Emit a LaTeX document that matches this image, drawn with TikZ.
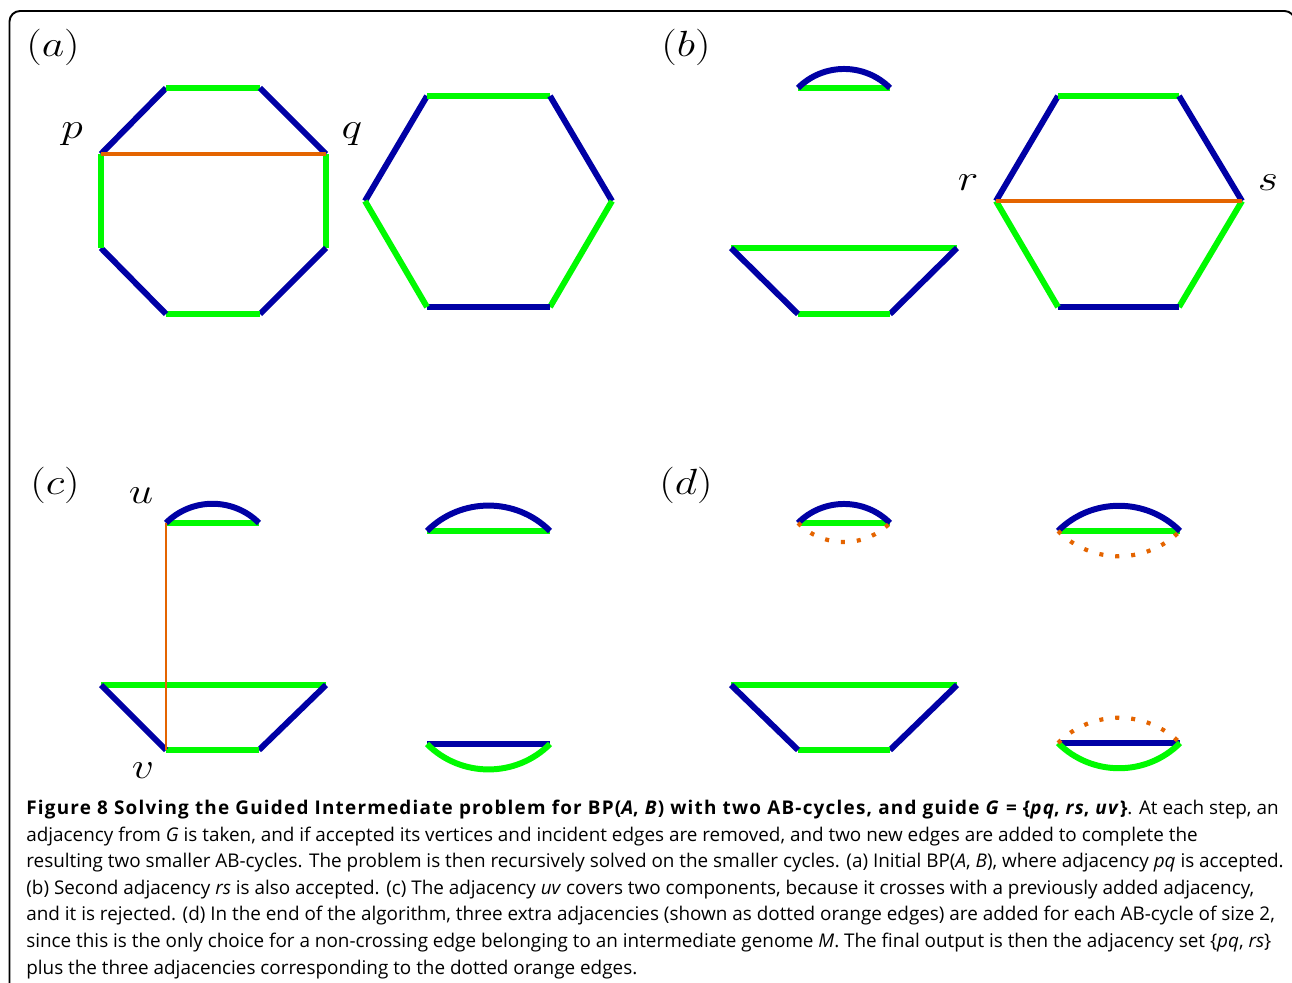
\documentclass[tikz,border=0pt]{standalone}
\usepackage{fontspec}
\newfontfamily\capfont{Open Sans}
\usepackage{xcolor}
\usepackage{tikz}
\usetikzlibrary{arrows.meta, calc}
\definecolor{myorange}{RGB}{228,100,0}
\definecolor{myblue}{RGB}{0,0,165}
\definecolor{mygreen}{RGB}{0,250,0}
\tikzstyle{bedge} = [myblue, line width=3.4pt]
\tikzstyle{gedge} = [mygreen, line width=3.4pt]
\tikzstyle{adj} = [myorange, line width=1.9pt]
\tikzstyle{extra} = [myorange, line width=2.4pt, dash pattern=on 2.3pt off 6.8pt]
\newcommand{\plab}[1]{\scalebox{1.2}[1]{$#1$}}
\newcommand{\capbf}[1]{{\bfseries\addfontfeatures{LetterSpace=6.5}#1}}

\begin{document}
\begin{tikzpicture}[
    x=0.02cm, y=-0.02cm,
    lab/.style={font=\fontsize{20}{24}\selectfont, inner sep=0pt}
]
    \useasboundingbox (0,0) rectangle (1292,983);
    \draw[line width=1.1pt, rounded corners=6pt] (9.5,995) -- (9.5,11) -- (1295,11) -- (1295,120);

    % panel labels
    \node[lab] (la) at (53,47) {\plab{(a)}};
    \node[lab] (lb) at (686,47) {\plab{(b)}};
    \node[lab] (lc) at (55,485) {\plab{(c)}};
    \node[lab] (ld) at (686,485) {\plab{(d)}};

    % (a) octagon and hexagon
    \coordinate (p) at (101,154);
    \coordinate (a1) at (166,88);
    \coordinate (a2) at (260,88);
    \coordinate (q) at (326,154);
    \coordinate (a4) at (326,248);
    \coordinate (a5) at (260,314);
    \coordinate (a6) at (166,314);
    \coordinate (a7) at (101,248);
    \draw[bedge] (p) -- (a1);
    \draw[gedge] (a1) -- (a2);
    \draw[bedge] (a2) -- (q);
    \draw[gedge] (q) -- (a4);
    \draw[bedge] (a4) -- (a5);
    \draw[gedge] (a5) -- (a6);
    \draw[bedge] (a6) -- (a7);
    \draw[gedge] (a7) -- (p);
    \draw[adj] (p) -- (q);
    \node[lab] (lp) at (72,134) {\plab{p}};
    \node[lab] (lq) at (352,134) {\plab{q}};

    \coordinate (h1) at (427,96);
    \coordinate (h2) at (550,96);
    \coordinate (h3) at (612,201);
    \coordinate (h4) at (550,307);
    \coordinate (h5) at (427,307);
    \coordinate (h6) at (365,201);
    \draw[bedge] (h6) -- (h1);
    \draw[gedge] (h1) -- (h2);
    \draw[bedge] (h2) -- (h3);
    \draw[gedge] (h3) -- (h4);
    \draw[bedge] (h4) -- (h5);
    \draw[gedge] (h5) -- (h6);

    % (b) after pq
    \coordinate (b1) at (798,88);
    \coordinate (b2) at (890,88);
    \draw[gedge] (b1) -- (b2);
    \draw[bedge] (b1) to[bend left=45] (b2);

    \coordinate (t1) at (731,248);
    \coordinate (t2) at (957,248);
    \coordinate (t3) at (890,314);
    \coordinate (t4) at (798,314);
    \draw[gedge] (t1) -- (t2);
    \draw[bedge] (t2) -- (t3);
    \draw[gedge] (t3) -- (t4);
    \draw[bedge] (t4) -- (t1);

    \coordinate (r) at (996,201);
    \coordinate (g1) at (1058,96);
    \coordinate (g2) at (1179,96);
    \coordinate (s) at (1242,201);
    \coordinate (g4) at (1179,307);
    \coordinate (g5) at (1058,307);
    \draw[bedge] (r) -- (g1);
    \draw[gedge] (g1) -- (g2);
    \draw[bedge] (g2) -- (s);
    \draw[gedge] (s) -- (g4);
    \draw[bedge] (g4) -- (g5);
    \draw[gedge] (g5) -- (r);
    \draw[adj] (r) -- (s);
    \node[lab] (lr) at (968,183) {\plab{r}};
    \node[lab] (ls) at (1268,183) {\plab{s}};

    % (c) uv rejected
    \coordinate (u) at (166,523);
    \coordinate (c2) at (259,523);
    \draw[gedge] (u) -- (c2);
    \draw[bedge] (u) to[bend left=45] (c2);

    \coordinate (c3) at (101,685);
    \coordinate (c4) at (326,685);
    \coordinate (c5) at (259,750);
    \coordinate (v) at (166,750);
    \draw[gedge] (c3) -- (c4);
    \draw[bedge] (c4) -- (c5);
    \draw[gedge] (c5) -- (v);
    \draw[bedge] (v) -- (c3);
    \draw[adj, line width=1.5pt] (u) -- (v);
    \node[lab] (lu) at (141,496) {\plab{u}};
    \node[lab] (lv) at (143,771) {\plab{v}};

    \coordinate (c6) at (427,531);
    \coordinate (c7) at (550,531);
    \draw[gedge] (c6) -- (c7);
    \draw[bedge] (c6) to[bend left=45] (c7);
    \coordinate (c8) at (427,744);
    \coordinate (c9) at (550,744);
    \draw[bedge] (c8) -- (c9);
    \draw[gedge] (c8) to[bend right=45] (c9);

    % (d) final extra adjacencies
    \coordinate (d1) at (798,523);
    \coordinate (d2) at (890,523);
    \draw[gedge] (d1) -- (d2);
    \draw[bedge] (d1) to[bend left=45] (d2);
    \draw[extra] (d1) to[bend right=45] (d2);

    \coordinate (d3) at (731,685);
    \coordinate (d4) at (957,685);
    \coordinate (d5) at (890,750);
    \coordinate (d6) at (798,750);
    \draw[gedge] (d3) -- (d4);
    \draw[bedge] (d4) -- (d5);
    \draw[gedge] (d5) -- (d6);
    \draw[bedge] (d6) -- (d3);

    \coordinate (d7) at (1058,531);
    \coordinate (d8) at (1180,531);
    \draw[gedge] (d7) -- (d8);
    \draw[bedge] (d7) to[bend left=45] (d8);
    \draw[extra] (d7) to[bend right=45] (d8);
    \coordinate (d9) at (1058,743);
    \coordinate (d10) at (1180,743);
    \draw[bedge] (d9) -- (d10);
    \draw[gedge] (d9) to[bend right=45] (d10);
    \draw[extra] (d9) to[bend left=45] (d10);

    % caption
    \node[anchor=base west, align=left, inner sep=0pt,
          font=\capfont\fontsize{10.75}{15.1}\selectfont] (caption) at (26,974)
    {\capbf{Figure 8 Solving the Guided Intermediate problem for BP(\textit{A}, \textit{B}) with two AB-cycles, and guide \textit{G} = \{\textit{pq}, \textit{rs}, \textit{uv}\}}. At each step, an\\
    adjacency from \textit{G} is taken, and if accepted its vertices and incident edges are removed, and two new edges are added to complete the\\
    resulting two smaller AB-cycles. The problem is then recursively solved on the smaller cycles. (a) Initial BP(\textit{A}, \textit{B}), where adjacency \textit{pq} is accepted.\\
    (b) Second adjacency \textit{rs} is also accepted. (c) The adjacency \textit{uv} covers two components, because it crosses with a previously added adjacency,\\
    and it is rejected. (d) In the end of the algorithm, three extra adjacencies (shown as dotted orange edges) are added for each AB-cycle of size 2,\\
    since this is the only choice for a non-crossing edge belonging to an intermediate genome \textit{M}. The final output is then the adjacency set \{\textit{pq}, \textit{rs}\}\\
    plus the three adjacencies corresponding to the dotted orange edges.};
\end{tikzpicture}
\end{document}
